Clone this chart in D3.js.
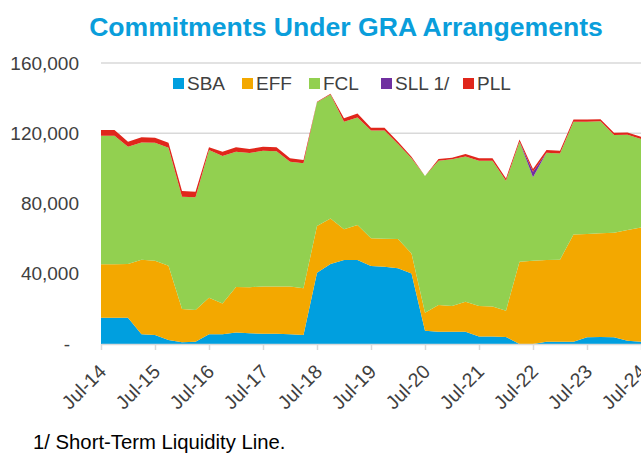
<!DOCTYPE html>
<html>
<head>
<meta charset="utf-8">
<script src="https://cdn.jsdelivr.net/npm/d3@7"></script>
<style>
  html, body { margin: 0; padding: 0; background: #fff; }
  svg { display: block; font-family: "Liberation Sans", Arial, sans-serif; }
</style>
</head>
<body>
<svg id="chart" width="641" height="453"></svg>
<script>
// Quarterly observations, Jul-14 .. Jul-24 (41 quarters)
const quarters = d3.range(41);
const tickLabels = ["Jul-14","Jul-15","Jul-16","Jul-17","Jul-18","Jul-19","Jul-20","Jul-21","Jul-22","Jul-23","Jul-24"];
const seriesNames = ["SBA","EFF","FCL","SLL 1/","PLL"];
const seriesColors = ["#009fdf","#f3a800","#92d050","#7030a0","#e0261b"];

const sba = [15000,15000,15000,5500,5100,2300,950,1300,5500,5500,6500,6100,5900,5800,5500,5100,
             40600,45500,47800,47800,44400,44000,43100,40200,7600,7000,7000,7000,4200,4200,4000,0,
             0,1300,1300,1300,3900,4000,3900,1900,1300];
const eff = [30400,30400,30500,42500,42300,42300,18950,18100,20900,17600,26000,26200,26900,27000,27300,26600,
             26600,26000,17500,20000,15800,16000,16700,11400,10200,15200,14600,17100,17400,17200,15000,46900,
             47400,46500,46700,61100,58700,59000,59500,63000,65100];
const fcl = [73200,73200,66850,66800,67200,67200,64000,64100,84100,83900,77000,76400,77200,76900,71000,71200,
             70400,70500,61300,61200,61300,61500,54100,54100,77900,82200,83600,82600,82800,83000,74000,68300,
             47500,61100,60500,64200,64000,63900,55600,54300,50300];
const sll = [0,0,0,0,0,0,0,0,0,0,0,0,0,0,0,0,
             0,0,0,0,0,0,0,0,0,0,0,0,0,0,0,0,
             3200,0,0,0,0,0,0,0,0];
const pll = [3250,3250,2850,2900,2900,2800,3200,3200,1500,2500,2500,2300,2300,2300,1900,1900,
             300,500,1900,2300,1700,1700,1300,900,0,1000,900,1500,1300,1300,1300,1300,
             1500,1600,1500,1300,1300,1100,1300,1200,1300];
const yTicks = [0,40000,80000,120000,160000];

const rows = quarters.map(i => ({i, "SBA": sba[i], "EFF": eff[i], "FCL": fcl[i], "SLL 1/": sll[i], "PLL": pll[i]}));

const svg = d3.select("#chart");
const x = d3.scaleLinear().domain([0, 40]).range([101, 641]);
const y = d3.scaleLinear().domain([0, 160000]).range([344, 63]);

// Title
svg.append("text").attr("x", 346).attr("y", 36).attr("text-anchor", "middle")
  .attr("font-size", 26.6).attr("font-weight", "bold").attr("fill", "#0a9edb")
  .text("Commitments Under GRA Arrangements");

// Gridlines
svg.append("g").selectAll("line").data(yTicks.filter(d => d > 0)).join("line")
  .attr("x1", 101).attr("x2", 641).attr("y1", d => y(d)).attr("y2", d => y(d))
  .attr("stroke", "#d9d9d9").attr("stroke-width", 1.5);

// Stacked areas
const stack = d3.stack().keys(seriesNames)(rows);
const area = d3.area().x(d => x(d.data.i)).y0(d => y(d[0])).y1(d => y(d[1]));
svg.append("g").selectAll("path").data(stack).join("path")
  .attr("d", area).attr("fill", (d, k) => seriesColors[k]);

// Y axis (labels only)
const yAxis = svg.append("g").attr("transform", "translate(101,0)")
  .call(d3.axisLeft(y).tickValues(yTicks).tickSize(0).tickPadding(22)
    .tickFormat(d => d === 0 ? "-" : d3.format(",")(d)));
yAxis.select(".domain").remove();
yAxis.selectAll("text").attr("font-size", 19).attr("fill", "#404040")
  .attr("font-family", "Liberation Sans, Arial, sans-serif");
yAxis.selectAll(".tick").filter(d => d === 0).select("text").attr("x", -31);

// X axis
const xAxis = svg.append("g").attr("transform", "translate(0,344)")
  .call(d3.axisBottom(x).tickValues(d3.range(0, 41, 4)).tickSize(6).tickSizeOuter(0)
    .tickFormat((d, k) => tickLabels[k]));
xAxis.select(".domain").attr("stroke", "#d9d9d9").attr("stroke-width", 1.5);
xAxis.selectAll(".tick line").attr("stroke", "#d9d9d9").attr("stroke-width", 1.5);
xAxis.selectAll("text").attr("font-size", 19.5).attr("fill", "#404040")
  .attr("font-family", "Liberation Sans, Arial, sans-serif")
  .attr("text-anchor", "end").attr("dy", "0.35em")
  .attr("transform", "translate(1,24) rotate(-45)").attr("x", 0).attr("y", 0);

// Legend
const legendX = [173, 242, 309, 381, 463];
const lg = svg.append("g");
seriesNames.forEach((name, k) => {
  lg.append("rect").attr("x", legendX[k]).attr("y", 78).attr("width", 11).attr("height", 11)
    .attr("fill", seriesColors[k]);
  lg.append("text").attr("x", legendX[k] + 14).attr("y", 90).attr("font-size", 19)
    .attr("fill", "#404040").text(name);
});

// Footnote
svg.append("text").attr("x", 33).attr("y", 449).attr("font-size", 20.3).attr("fill", "#000")
  .text("1/ Short-Term Liquidity Line.");
</script>
</body>
</html>
